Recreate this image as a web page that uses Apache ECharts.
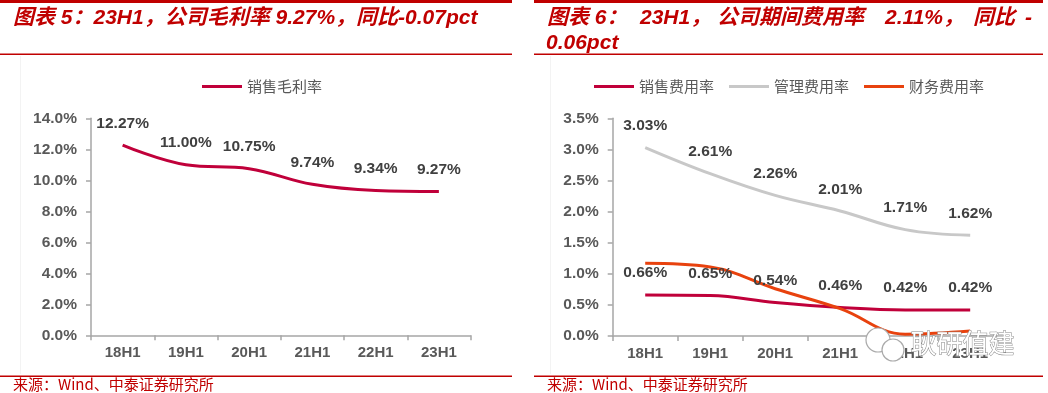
<!DOCTYPE html>
<html>
<head>
<meta charset="utf-8">
<script src="https://cdn.jsdelivr.net/npm/echarts@6/dist/echarts.min.js"></script>
<style>
html,body{margin:0;padding:0;background:#fff;}
#c{width:1048px;height:393px;}
</style>
</head>
<body>
<div id="c"></div>
<script>
// ---- data ----
const categories = ['18H1', '19H1', '20H1', '21H1', '22H1', '23H1'];
const grossMargin = [12.27, 11.00, 10.75, 9.74, 9.34, 9.27];
const salesRate = [0.66, 0.65, 0.54, 0.46, 0.42, 0.42];
const adminRate = [3.03, 2.61, 2.26, 2.01, 1.71, 1.62];
const financeRate = [1.17, 1.11, 0.76, 0.44, 0.03, 0.08];
const leftTicks = { min: 0, max: 14, interval: 2 };
const rightTicks = { min: 0, max: 3.5, interval: 0.5 };

const RED = '#C00000';
const CRIMSON = '#C0003A';
const GREY = '#C8C8C8';
const ORANGE = '#E8420E';
const FONT = '"Liberation Sans", Arial, "Noto Sans CJK SC", sans-serif';
const CJK = '"Noto Sans CJK SC", "Liberation Sans", sans-serif';

const chart = echarts.init(document.getElementById('c'), null, { renderer: 'canvas' });

function axisX(gi) {
  return {
    type: 'category', gridIndex: gi, data: categories, boundaryGap: true,
    axisLine: { lineStyle: { color: '#A6A6A6', width: 1.5 } },
    axisTick: { show: true, length: 5, lineStyle: { color: '#A6A6A6', width: 1.5 } },
    axisLabel: { color: '#595959', fontSize: 15, fontWeight: 'bold', fontFamily: FONT, margin: 10 }
  };
}
function axisY(gi, t) {
  return {
    type: 'value', gridIndex: gi, min: t.min, max: t.max, interval: t.interval,
    axisLine: { show: true, lineStyle: { color: '#A6A6A6', width: 1.5 } },
    axisTick: { show: true, length: 5, lineStyle: { color: '#A6A6A6', width: 1.5 } },
    splitLine: { show: false },
    axisLabel: { color: '#595959', fontSize: 15.5, fontWeight: 'bold', fontFamily: FONT, margin: 14,
      formatter: v => v.toFixed(1) + '%' }
  };
}
const labelStyle = {
  show: true, position: 'top', distance: 14, color: '#404040', fontSize: 15.5,
  fontWeight: 'bold', fontFamily: FONT, formatter: p => p.value.toFixed(2) + '%'
};
function lineSeries(name, data, color, xi, withLabel) {
  return {
    name, type: 'line', data, xAxisIndex: xi, yAxisIndex: xi, smooth: 0.4,
    symbol: 'circle', symbolSize: 0.01, showSymbol: true, emphasis: { disabled: true },
    lineStyle: { color, width: 3 }, itemStyle: { color },
    label: withLabel ? labelStyle : { show: false }
  };
}

const titleStyle = { fill: RED, fontSize: 21, fontWeight: 'bold', fontStyle: 'italic', fontFamily: FONT };
function ttxt(x, y, text) {
  return { type: 'text', left: x, top: y, style: Object.assign({ text }, titleStyle) };
}
function hline(x1, x2, y, w) {
  return { type: 'rect', shape: { x: x1, y: y, width: x2 - x1, height: w }, style: { fill: RED } };
}

chart.setOption({
  animation: false,
  legend: [
    { data: ['销售毛利率'], left: 197, top: 74, icon: 'rect', itemWidth: 40, itemHeight: 3, itemGap: 15,
      textStyle: { color: '#595959', fontSize: 15, fontFamily: CJK } },
    { data: ['销售费用率', '管理费用率', '财务费用率'], left: 589, top: 74, icon: 'rect', itemWidth: 40, itemHeight: 3, itemGap: 15,
      textStyle: { color: '#595959', fontSize: 15, fontFamily: CJK } }
  ],
  grid: [
    { left: 91, top: 118.3, width: 379.5, height: 217 },
    { left: 612.7, top: 118.3, width: 390, height: 217.7 }
  ],
  xAxis: [axisX(0), axisX(1)],
  yAxis: [axisY(0, leftTicks), axisY(1, rightTicks)],
  series: [
    lineSeries('销售毛利率', grossMargin, CRIMSON, 0, true),
    lineSeries('销售费用率', salesRate, CRIMSON, 1, true),
    lineSeries('管理费用率', adminRate, GREY, 1, true),
    lineSeries('财务费用率', financeRate, ORANGE, 1, false)
  ],
  graphic: [
    hline(0, 512, 0, 3), hline(534, 1043, 0, 3),
    hline(0, 512, 53.5, 1.5), hline(534, 1043, 53.5, 1.5),
    hline(0, 512, 375.5, 1.5), hline(534, 1043, 375.5, 1.5),
    { type: 'rect', shape: { x: 20, y: 56, width: 1, height: 318 }, style: { fill: '#F3F3F3' } },
    { type: 'rect', shape: { x: 550, y: 56, width: 1, height: 318 }, style: { fill: '#F3F3F3' } },
    ttxt(13, 8, '图表 5：23H1，公司毛利率 9.27%，同比-0.07pct'),
    ttxt(547, 8, '图表 6：'),
    ttxt(640, 8, '23H1，'),
    ttxt(717, 8, '公司期间费用率'),
    ttxt(885, 8, '2.11%，'),
    ttxt(973, 8, '同比'),
    ttxt(1025, 8, '-'),
    ttxt(546, 33, '0.06pct'),
    { type: 'text', left: 13, top: 377, style: { text: '来源：Wind、中泰证券研究所', fill: RED, fontSize: 15, fontFamily: CJK } },
    { type: 'text', left: 547, top: 377, style: { text: '来源：Wind、中泰证券研究所', fill: RED, fontSize: 15, fontFamily: CJK } },
    // watermark
    { type: 'circle', z: 100, shape: { cx: 878, cy: 340, r: 12 }, style: { fill: '#fff', stroke: '#AAAAAA', lineWidth: 1.2 } },
    { type: 'circle', z: 101, shape: { cx: 893, cy: 350, r: 11 }, style: { fill: '#fff', stroke: '#AAAAAA', lineWidth: 1.2 } },
    { type: 'text', z: 102, left: 910, top: 330, style: { text: '耿研值建', fill: '#fff', stroke: '#888888', lineWidth: 1, fontSize: 26, fontFamily: CJK } }
  ]
});
</script>
</body>
</html>
